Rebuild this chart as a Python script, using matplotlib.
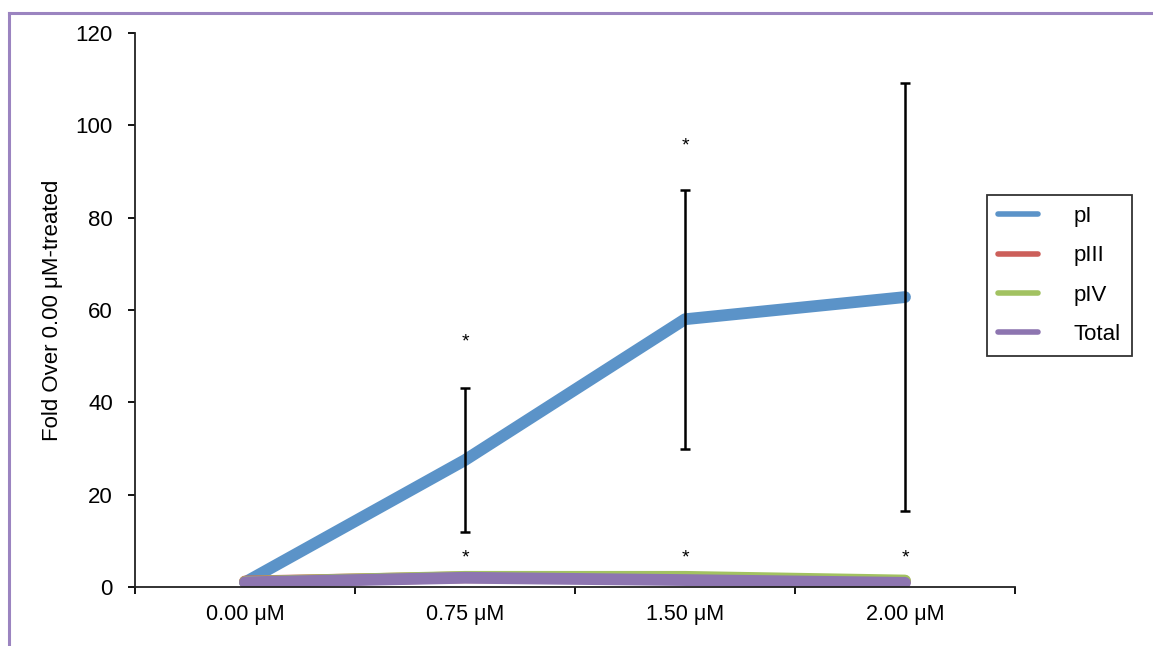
import matplotlib
matplotlib.use("Agg")
import matplotlib.pyplot as plt
from matplotlib.lines import Line2D

plt.rcParams['font.family'] = ['Liberation Sans', 'DejaVu Sans']

categories = ["0.00 μM", "0.75 μM", "1.50 μM", "2.00 μM"]
series_names = ["pI", "pIII", "pIV", "Total"]
pI = [1.0, 27.5, 58.0, 62.8]
pI_err = [0.0, 15.5, 28.0, 46.3]
pIII = [1.2, 2.1, 1.9, 1.2]
pIV = [1.1, 2.2, 2.2, 1.4]
total = [1.0, 2.0, 1.5, 0.9]
colors = ["#5b93c8", "#cc5f5a", "#a2c261", "#8d75b0"]

star_top_x = [1, 2]
star_top_y = [53.0, 95.5]
star_bottom_x = [1, 2, 3]
star_bottom_y = [6.3, 6.3, 6.3]

yticks = [0, 20, 40, 60, 80, 100, 120]

fig = plt.figure(figsize=(11.53, 6.46), dpi=100)
ax = fig.add_axes([135/1153, 1-587/646, (1015-135)/1153, (587-33)/646])

x = list(range(len(categories)))
all_series = [pI, pIII, pIV, total]
for vals, c in zip(all_series, colors):
    ax.plot(x, vals, color=c, lw=8.5, solid_capstyle='round',
            solid_joinstyle='round', zorder=2)

ax.errorbar(x[1:], pI[1:], yerr=pI_err[1:], fmt='none', ecolor='black',
            elinewidth=1.8, capsize=3.3, capthick=1.8, zorder=3)

for xs, ys in [(star_top_x, star_top_y), (star_bottom_x, star_bottom_y)]:
    for xi, yi in zip(xs, ys):
        ax.text(xi, yi, "*", ha='center', va='center', fontsize=14, zorder=4)

ax.set_xlim(-0.5, len(categories) - 0.5)
ax.set_ylim(0, 120)
ax.set_yticks(yticks)
ax.set_xticks([i - 0.5 for i in range(len(categories) + 1)])
ax.set_xticklabels([])
ax.set_xticks(x, minor=True)
ax.set_xticklabels(categories, minor=True)
ax.tick_params(axis='x', which='minor', length=0, pad=12, labelsize=15.5)
ax.tick_params(axis='x', which='major', direction='out', length=5, width=1.3)
ax.tick_params(axis='y', direction='out', length=5, width=1.3, labelsize=16, pad=11)
for s in ['top', 'right']:
    ax.spines[s].set_visible(False)
for s in ['left', 'bottom']:
    ax.spines[s].set_linewidth(1.3)
    ax.spines[s].set_color('#222222')
ax.set_ylabel("Fold Over 0.00 μM-treated", fontsize=16, labelpad=9)

handles = [Line2D([0], [0], color=c, lw=4, solid_capstyle='round') for c in colors]
leg = fig.legend(handles, series_names, loc='upper left',
                 bbox_to_anchor=(987/1153, 1-195/646), frameon=True,
                 fancybox=False, fontsize=16, handlelength=1.8,
                 handletextpad=1.6, borderpad=0.5, labelspacing=0.82,
                 borderaxespad=0)
leg.get_frame().set_edgecolor('black')
leg.get_frame().set_linewidth(1.3)

# chart-area border (left and top visible)
fig.add_artist(Line2D([9/1153, 9/1153], [0, 1-13/646], color='#9b84c0', lw=2.2,
                      transform=fig.transFigure))
fig.add_artist(Line2D([9/1153, 1], [1-13/646, 1-13/646], color='#9b84c0', lw=2.2,
                      transform=fig.transFigure))

fig.savefig("out.png", dpi=100)
